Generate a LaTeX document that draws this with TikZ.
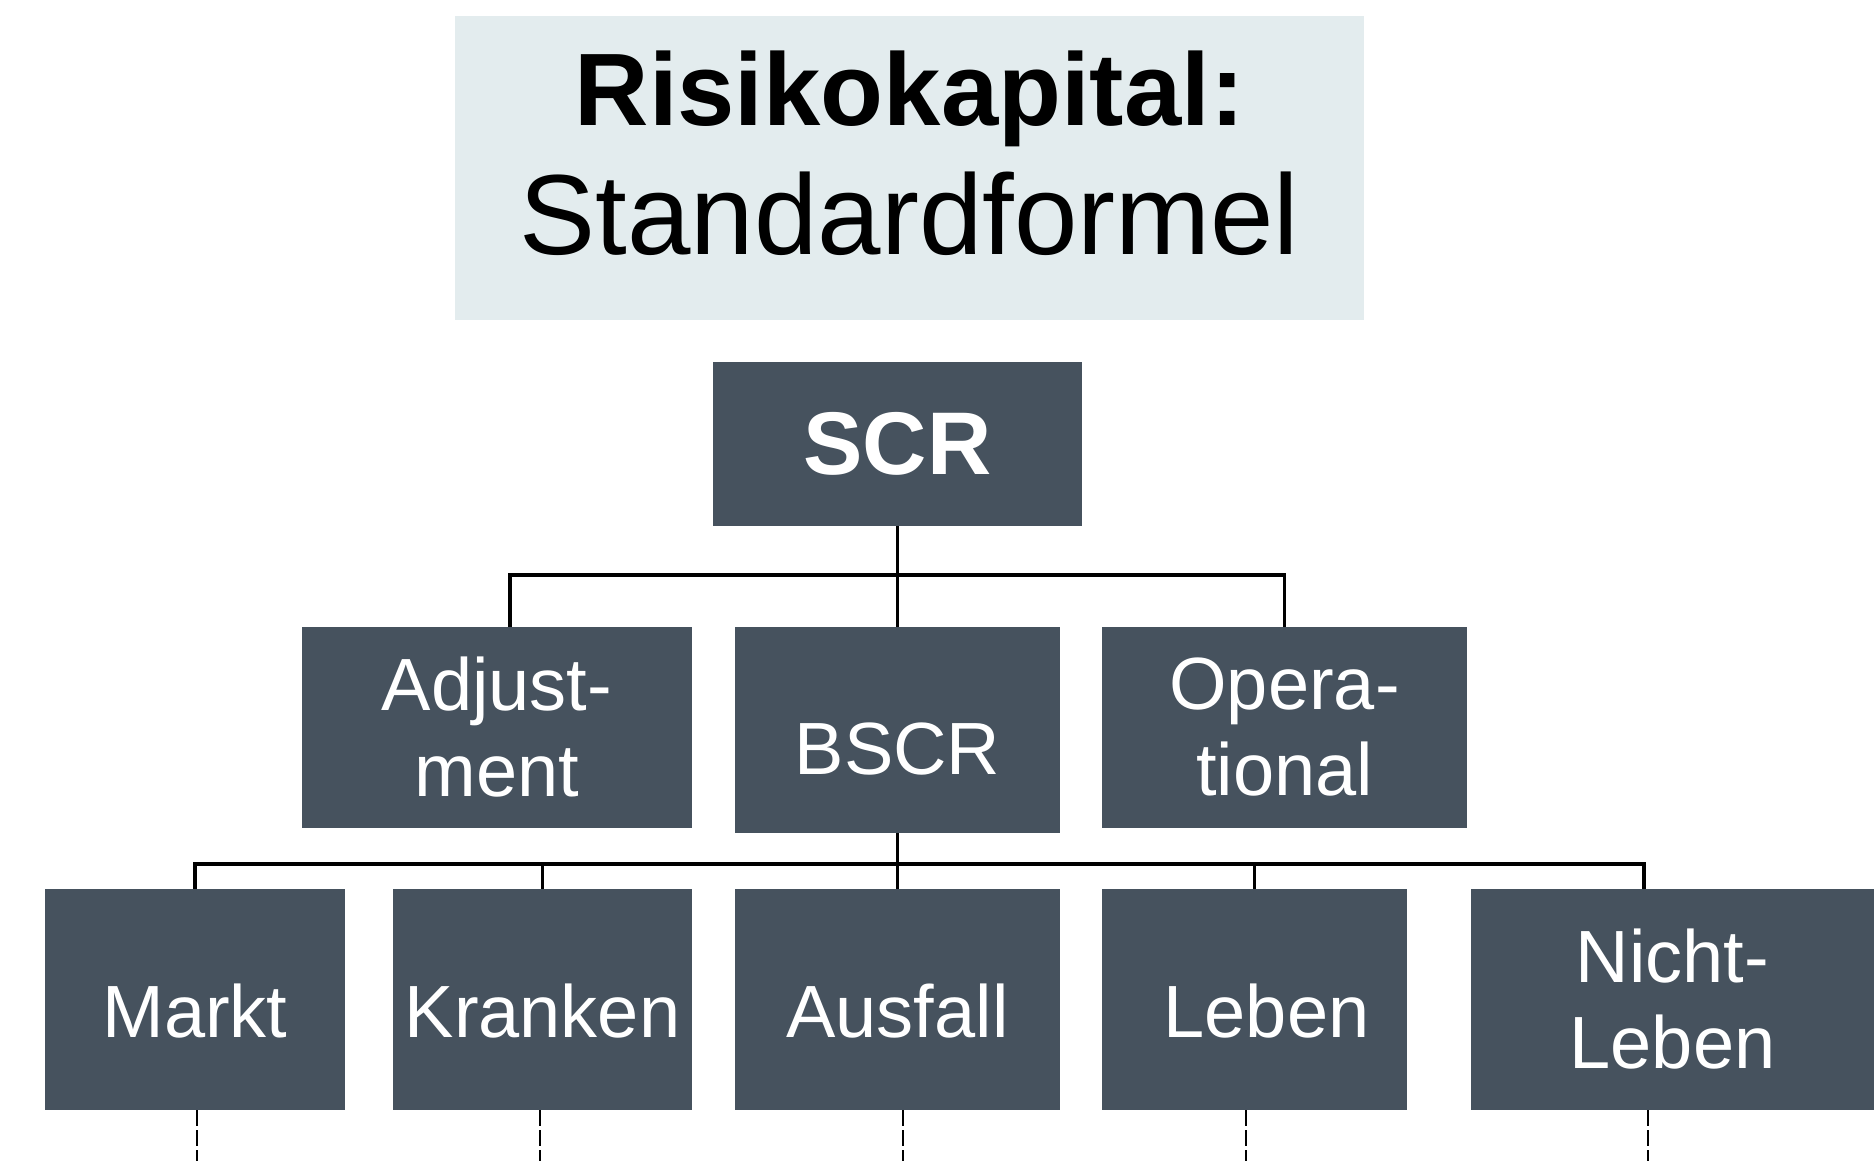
\documentclass[tikz,border=0pt]{standalone}
\usepackage{fontspec}
\setmainfont{Liberation Sans}
\usetikzlibrary{calc,positioning}
\definecolor{boxgrey}{HTML}{46525E}
\definecolor{titlebg}{HTML}{E3ECEE}

\begin{document}
\begin{tikzpicture}[x=0.5pt,y=-0.5pt,inner sep=0pt,
  riskbox/.style={rectangle,fill=boxgrey,text=white,align=center,
    font=\fontsize{37}{43}\selectfont},
  lowtext/.style={text height=37.5pt,text depth=0pt},
  link/.style={line width=1.8pt},
  tail/.style={line width=1pt,dash pattern=on 8pt off 2pt}]
\useasboundingbox (0,0) rectangle (1874,1161);
\coordinate (top) at (0,575);
\coordinate (mid) at (0,864);
\coordinate (bot) at (0,1161);

\node (title) at (909.5,168) [fill=titlebg,minimum width=454.5pt,minimum height=152pt] {};
\node (titletext) at (909.5,153) [align=center,font=\fontsize{57}{64.5}\selectfont]
  {\textbf{\fontsize{51.5}{64.5}\selectfont Risikokapital:}\\Standardformel};

\node (scr) at (897.5,444) [riskbox,minimum width=184.5pt,minimum height=82pt,
  font=\fontsize{44.5}{50}\selectfont\bfseries] {SCR};

% second level
\node (adj) at (497,727.5) [riskbox,minimum width=195pt,minimum height=100.5pt] {Adjust-\\ment};
\node (bscr) at (897.5,730) [riskbox,minimum width=162.5pt,minimum height=103pt,text height=44.5pt,text depth=0pt] {BSCR};
\node (op) at (1284.5,727.5) [riskbox,minimum width=182.5pt,minimum height=100.5pt] {Opera-\\tional};

% modules
\node (markt) at (195,999.5) [riskbox,lowtext,minimum width=150pt,minimum height=110.5pt] {Markt};
\node (kranken) at (542.5,999.5) [riskbox,lowtext,minimum width=149.5pt,minimum height=110.5pt] {Kranken};
\node (ausfall) at (897.5,999.5) [riskbox,lowtext,minimum width=162.5pt,minimum height=110.5pt] {Ausfall};
\node (leben) at (1254.5,999.5) [riskbox,lowtext,minimum width=152.5pt,minimum height=110.5pt] {\hspace*{12pt}Leben};
\node (nicht) at (1672.5,999.5) [riskbox,minimum width=201.5pt,minimum height=110.5pt] {Nicht-\\Leben};

\draw[link] (scr.south) -- (bscr.north);
\draw[link] ([xshift=6.5pt]adj.north) |- (top -| op.north) -- (op.north);

\draw[link] (bscr.south) -- (bscr.south |- mid);
\draw[link] (markt.north) |- ([xshift=-14.25pt]nicht.north |- mid) -- ([xshift=-14.25pt]nicht.north);
\foreach \n in {kranken,ausfall,leben}
  \draw[link] (\n.north) -- (\n.north |- mid);

\foreach \n/\s in {markt/1pt,kranken/-1.25pt,ausfall/2.75pt,leben/-4.25pt,nicht/-12.25pt}
  \draw[tail] ([xshift=\s]\n.south) -- ([xshift=\s]\n.south |- bot);
\end{tikzpicture}
\end{document}
